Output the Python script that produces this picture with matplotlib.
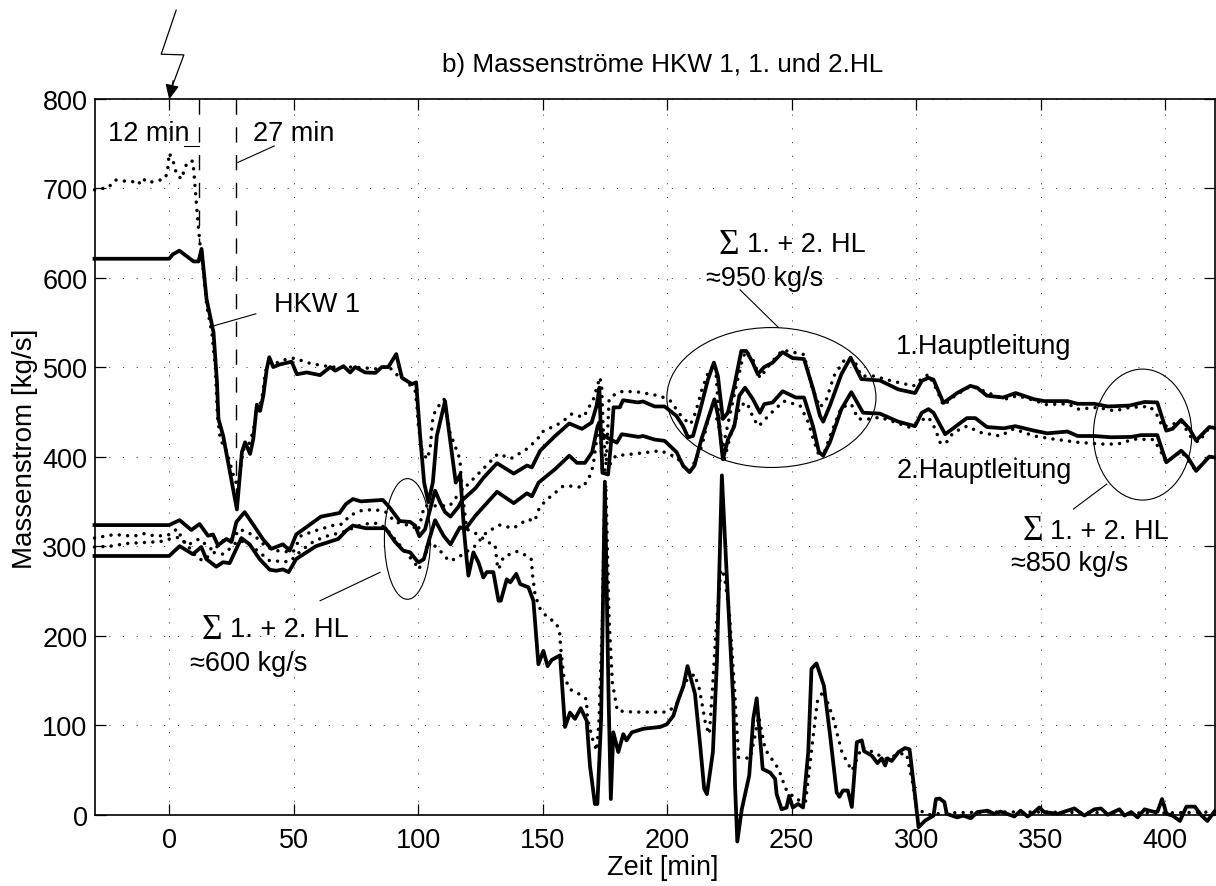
import matplotlib
matplotlib.use("Agg")
import matplotlib.pyplot as plt
from matplotlib.patches import Ellipse

plt.rcParams['font.family'] = ['Liberation Sans', 'DejaVu Sans']

# HKW 1
hkw_t = [-30, 0, 1.5, 4.1, 9.8, 11.8, 13, 15, 17.8, 19.2, 19.8, 21.7, 27.2, 29.2, 30.5, 32.5, 33.8, 35.2, 36.5, 37.8, 39.2, 40.2, 41.8, 44.5, 49.2, 51.3, 55.3, 60.6, 64.7, 66.7, 70, 72.7, 74.7, 78.7, 82.8, 85.4, 88, 91.2, 93.5, 97.5, 99.2, 100.8, 102.4, 104.1, 105.9, 107.5, 110.8, 115.1, 116.9, 118.5, 119.5, 120.2, 122.2, 124.2, 126.2, 127.6, 130.2, 132.3, 133.2, 135.6, 137, 139.4, 141, 144.3, 146.3, 148.3, 150.3, 152, 153.7, 157, 159, 161, 163, 165.3, 167.7, 169, 171, 172, 173.5, 175, 176.5, 177.4, 178.4, 180.4, 182.4, 183.7, 185.8, 190.5, 197.2, 199.9, 202.5, 204.6, 206.6, 208.2, 211.2, 213.3, 214.9, 216, 218.4, 220, 222, 223.7, 226.6, 227.3, 228.2, 230, 233, 234.6, 236, 238.4, 241.4, 243.4, 244, 246, 248, 249, 250.5, 252.6, 254.6, 256.7, 258, 260, 263, 265.5, 268.1, 269.2, 270.6, 272.6, 274.2, 276.2, 278.2, 279.1, 282.2, 284.5, 286.2, 287.6, 288.5, 290.2, 293, 295.6, 297.4, 299.6, 301, 303.6, 307, 308, 309.5, 311.4, 312.3, 316.5, 319, 322, 324.7, 328.7, 331.4, 334, 339.5, 342, 344.8, 347.5, 349.5, 351.5, 356.9, 363.6, 367.6, 371.6, 374.3, 377, 381.7, 383.7, 386.4, 389, 391.8, 395.8, 397, 398.8, 400.6, 403, 406, 408.6, 412, 414.7, 417, 420]
hkw_v = [621, 621, 626, 630, 618, 618, 632, 576, 539, 483, 442, 423, 341, 405, 416, 403, 420, 458, 451, 468, 498, 511, 500, 503, 506, 492, 494, 491, 500, 496, 501, 494, 500, 494, 493.5, 500, 500, 514.5, 488, 481, 483, 423, 371, 349, 371, 423, 462, 371, 380, 315, 285, 267, 293, 282, 265, 271, 271, 239, 239, 263, 259.5, 269, 257.6, 254, 239, 168, 183, 166, 173, 178, 98, 114, 107, 119, 105, 55, 12, 12, 107, 372, 130, 17.5, 92, 70, 90, 83, 92, 96, 98, 101, 110.5, 129, 144, 166, 135, 77, 29, 23, 70, 170, 379, 282, 126, 32, -30, 6, 44, 107, 130, 51, 47, 40, 23, 6, 8, 21, 8, 12, 8, 70, 163, 169, 144, 88, 25, 20, 27, 27, 8.6, 81, 83, 71, 66, 57.6, 63, 55, 63, 60, 70, 74.5, 73, 21, -14, -6.7, -1, 17.5, 18, 14, 1, -3, -1, -4, 3, 4.5, 1, 3.5, -2, 4.5, -2, 3, 8, 3, 1, 7, -1, 6, 7, 0, 6, -1, 3, -3, 6, 3, 3.5, 17.5, 1, -1, -7, 9, 9, -1, -7, 4]
hkw_sim_t = [-30, -24.4, -21.7, -19, -14.3, -12.3, -11, -8.3, -5, -1.9, -0.7, 0, 1.5, 3, 5, 6.4, 7.8, 9.5, 10, 11, 11.8, 12.4, 14, 15.1, 17.1, 18.5, 19.4, 20.5, 23.2, 25.8, 27.4, 28.8, 29.8, 31.8, 33.6, 35.2, 37.2, 38.6, 39.9, 43.9, 47.2, 50.6, 55.2, 60.6, 65.9, 74, 83.3, 88, 92, 94.7, 98.8, 99.5, 100.1, 101.5, 103.5, 104.8, 105.9, 107.2, 110.4, 112.8, 114.8, 116.8, 117.2, 117.9, 119.5, 123.6, 128.3, 131, 131.6, 132.3, 134.3, 139.7, 143, 145.4, 146, 147, 149, 151.7, 155.5, 156.8, 157.3, 158.5, 161, 164.5, 167.6, 168, 170, 171.7, 172.7, 174, 174.7, 175.4, 176.7, 178, 180, 186.8, 200, 203.6, 207, 211, 213, 215.6, 217, 218.3, 219.6, 221.6, 223, 225, 227, 228.7, 233.4, 235.3, 236.8, 239.4, 244.8, 247.6, 251.6, 255.6, 257.6, 260.3, 262.8, 266.8, 270.2, 274.2, 276.2, 278.2, 284.2, 287.6, 293.6, 296.2, 298.9, 300.2, 305, 312, 330, 350, 380, 400, 420]
hkw_sim_v = [698, 700.6, 709, 708, 707, 704, 711, 706, 708, 710, 717, 739, 731, 715, 710, 723.6, 730, 730, 715, 680, 654, 637, 602, 568, 539, 501, 445, 419.5, 405, 379, 367, 390, 408, 412, 427, 449, 464, 494, 505, 505, 509, 510, 505, 502, 500, 500, 498, 501, 490, 486, 473.5, 457, 434, 408, 397, 408, 444, 453, 464, 427, 412, 397, 379, 356, 319, 313.5, 304, 301, 282, 274, 288, 294, 290, 286, 267, 245, 230, 221, 214, 204, 185, 155, 140, 135, 129, 107, 85, 71.5, 107, 218, 330, 369, 218, 148, 116, 114.6, 114.6, 122, 148, 157, 140, 99, 90, 144, 204, 274, 267, 226, 144, 64, 63, 88, 110, 73, 51, 29, 17.5, 14, 62, 126, 138.5, 107, 70, 49, 62, 75.5, 68, 62, 68, 68, 32, 6.5, 0, 2, 3, 3, 2, 2, 3]

# 1. Hauptleitung
hl1_t = [-30, 0, 4.2, 8.9, 12.2, 15.6, 17.6, 19.6, 23, 25, 27, 30.3, 33.6, 37.6, 41, 45.7, 48.4, 51, 55, 61, 68.4, 71, 73.8, 77, 85.8, 88.6, 92.6, 96.8, 98.8, 100.5, 102.8, 104.8, 106.8, 108.8, 110.8, 113, 116.1, 117.5, 123, 126.4, 131.7, 138.4, 143.7, 145.7, 149, 155, 160.7, 165.8, 169.7, 171.7, 172.8, 173.4, 174, 176.3, 177.6, 178.5, 181, 182.3, 188.3, 190.3, 195, 199, 203.7, 206.4, 208.4, 210.4, 213, 216.4, 218.8, 220.4, 222.4, 224.4, 227, 229.8, 231.8, 234.4, 236.4, 239, 242.4, 246.4, 250.4, 255, 258.7, 261.4, 262.7, 265.4, 270, 273.7, 278, 285.5, 292.9, 299.6, 302.3, 305, 307, 311, 316.5, 321.8, 324.5, 328.5, 335, 340, 347.5, 351.5, 360.8, 364.9, 371.6, 377, 385.7, 391.8, 396.9, 400.5, 403, 406.5, 409.8, 412.5, 417.8, 420]
hl1_v = [323.5, 323.5, 329, 318, 324.7, 311.6, 313, 301, 308, 304.6, 327, 338, 324.7, 308, 297, 302, 295, 313, 321, 333, 337, 347, 352.6, 350, 351.6, 343, 328, 327, 323, 311, 319, 341, 362, 349, 338, 333, 343.6, 350.7, 364.6, 376.8, 392.6, 381, 390, 388, 406.6, 423, 437, 431, 438, 457, 477, 427, 382, 380, 419, 455, 455, 463, 460.5, 461.6, 456, 456, 445.6, 434, 421.6, 423, 449, 486, 505, 490, 442, 449, 479, 518, 518, 505, 492, 500, 505, 516.6, 510, 509, 475, 445.6, 439, 457, 492, 510.6, 486.6, 485, 475, 471, 484.6, 488, 486, 460, 471, 479, 477, 468, 466, 471, 464, 462, 462, 459, 459, 456, 457, 461, 460.5, 429, 431, 441, 431, 418, 433, 432]
hl1_sim_t = [-30, -21.9, -14.3, -10.3, -5, 0.3, 3, 7, 12, 17.6, 21.6, 25.6, 28.3, 34.3, 39, 43, 49.7, 53, 58.4, 65.7, 69.7, 72.4, 77, 82.4, 87, 90.8, 98, 100, 102.5, 112.7, 115.4, 120, 126, 132, 137.4, 143.4, 148, 149.4, 157.5, 161.7, 166.4, 170.4, 173, 173.7, 174.4, 175.5, 176.7, 178, 180.7, 182.7, 188.7, 197.4, 201.4, 206, 209.4, 211.4, 214, 216.8, 219.4, 220.8, 222, 227.6, 230.4, 231.8, 234.4, 237.3, 241.8, 246.4, 255, 258, 261.4, 264, 267, 271.5, 275, 278, 283, 290, 299, 300.4, 305, 308.6, 311, 315.6, 322, 335.5, 340.7, 348.6, 351.6, 361, 365, 373, 379.6, 386, 394, 397, 399, 406.7, 410, 413.4, 418, 420]
hl1_sim_v = [309, 313, 311, 314, 311, 313, 319, 300.6, 308, 295, 306, 308, 319, 311.6, 299, 295, 293, 311.6, 317, 323, 324.7, 334, 339.5, 341, 338, 327, 322, 317, 345, 345, 355, 369, 386, 403, 398, 408, 419.5, 427, 438, 447.6, 444, 464, 488.6, 479, 427, 390, 464, 467.7, 472, 473, 472, 467.6, 462, 444, 436, 449, 475, 496, 503, 445.6, 405, 477, 510.6, 518, 509, 488, 505, 519, 514, 479, 455, 464, 490, 509, 509, 490, 490, 484.6, 479, 483, 492, 473, 457, 468, 479, 464, 468, 462, 458, 459, 453, 455, 451, 455, 456, 445.6, 433, 439, 423, 416, 433, 432]

# 2. Hauptleitung
hl2_t = [-30, 0, 4.2, 9.5, 12.9, 14.9, 18.9, 21.6, 24.3, 26.3, 29, 32.3, 36.3, 40.4, 43, 45.7, 48, 51, 59, 67.9, 71, 73.8, 79, 86.8, 90.8, 94, 96.8, 99.5, 100.3, 102.3, 104.5, 106.8, 110.2, 113, 116.8, 119, 123, 126.9, 131.7, 138.4, 143.7, 145.7, 148.4, 155, 160.7, 163.8, 167, 169.9, 172, 172.7, 173.8, 177, 179.8, 181.8, 188.5, 190.4, 195, 199, 203.8, 206.4, 209, 211, 213.8, 219, 220.5, 222.4, 224.5, 227, 229, 231.3, 234.5, 237.3, 239, 242.4, 246.4, 251.7, 255, 258.6, 261, 262.7, 265.4, 270, 274, 278.7, 285.5, 292.9, 299.6, 302.3, 305, 307, 311.7, 320.4, 323.8, 328.5, 335.2, 339.9, 347.4, 352.7, 360.8, 364.9, 371.6, 378.3, 386.4, 390.4, 396.9, 400.5, 406.5, 409.2, 412.5, 417.8, 420]
hl2_v = [289, 289, 300, 291, 299, 285.6, 277, 282, 281, 293, 309, 302, 285.6, 273.6, 272.5, 274, 271, 285.6, 300, 308, 317, 323, 320, 320, 304.6, 295, 293, 283.6, 282, 285.6, 308, 329, 311.6, 302, 321, 319, 334, 346, 360.7, 348, 359, 355.6, 371, 386, 401, 393, 393, 405, 433, 438, 425, 419.5, 415.6, 425, 422, 423, 419, 417.6, 405, 390, 382.6, 390, 419.5, 464, 445.6, 397, 419.5, 434, 468, 477, 464, 449, 458.6, 460.5, 473, 466, 466, 434, 405, 401, 416, 453, 472, 449, 448, 439, 434, 449, 453, 449, 425, 443, 443, 433, 431.6, 434, 429, 426, 428, 423, 423, 421.6, 422, 424, 424, 393.6, 406.6, 399, 384, 400, 399]
hl2_sim_t = [-30, -23.5, -16.8, -3.7, 0.3, 4.2, 7.6, 10.9, 13.6, 17.6, 21.6, 24.3, 27.6, 31, 36.3, 40.4, 48.4, 53, 58.4, 63.8, 69.7, 78, 84, 87.3, 99.5, 100.3, 105, 110.2, 112.2, 115, 118, 122.8, 127.5, 132.8, 138.2, 144, 146.8, 148.8, 152, 158.2, 161.5, 166.2, 169, 170.3, 171.7, 173, 174, 176.7, 179.4, 186.7, 197.4, 204, 206.8, 209.4, 214, 216.8, 220, 221.4, 223, 225.4, 229.4, 232, 234.8, 236.8, 241.4, 246.8, 253.4, 256.8, 258.7, 260.8, 263.4, 266, 270, 274, 276.7, 281.4, 285.4, 292, 297.4, 301.5, 305, 307.7, 309.6, 311.7, 315, 320.4, 325.8, 333.8, 339.2, 347.4, 355.4, 364.9, 374.2, 381, 387.6, 395.6, 398.4, 400.5, 406.5, 412.5, 417.8, 420]
hl2_sim_v = [299, 300, 303, 305, 308, 310, 300, 288, 283.6, 293, 291, 297, 306, 304.6, 293, 283.6, 282.5, 295, 306, 311.6, 315.6, 324.7, 325.7, 319, 278, 274, 304.6, 291, 283.6, 285.6, 291, 300, 315.6, 323.5, 320, 330, 328, 343.6, 352.6, 367, 367, 365.6, 378.6, 390, 419.5, 438, 382, 390, 401, 403, 406.6, 399, 388, 384, 412, 445.6, 442, 427, 397, 423, 457, 460.5, 442, 434, 447.6, 462, 457, 438, 419.5, 403, 406.6, 427, 455, 458.6, 442, 442, 444, 438, 432.7, 440, 444, 431, 416, 414, 427, 434, 427, 423, 431, 423, 419.5, 416, 414, 414, 419.5, 419, 405, 393.6, 406, 384, 400, 399]

x_ticks = [0, 50, 100, 150, 200, 250, 300, 350, 400]
y_ticks = [0, 100, 200, 300, 400, 500, 600, 700, 800]

fs = 19.5

fig = plt.figure(figsize=(12.16, 8.87), dpi=100)
ax = fig.add_axes([94.5 / 1216, (887 - 815.7) / 887, (1214.8 - 94.5) / 1216, (815.7 - 99.5) / 887])

# gemessen (durchgezogen) und berechnet (punktiert)
for t, v in [(hkw_sim_t, hkw_sim_v), (hl1_sim_t, hl1_sim_v), (hl2_sim_t, hl2_sim_v)]:
    ax.plot(t, v, color='black', lw=2.5, linestyle=(0, (0.01, 2.4)), dash_capstyle='round', clip_on=False)
for t, v in [(hkw_t, hkw_v), (hl1_t, hl1_v), (hl2_t, hl2_v)]:
    ax.plot(t, v, color='black', lw=2.7, solid_joinstyle='round', clip_on=False)

ax.set_xlim(-30, 420)
ax.set_ylim(0, 800)
ax.set_xticks(x_ticks)
ax.set_yticks(y_ticks)
ax.tick_params(direction='in', length=8, width=0.9, labelsize=fs, top=True, right=True, pad=5)
ax.tick_params(axis='x', pad=9)
ax.grid(True, color='#333333', lw=0.65, linestyle=(0, (1.2, 14)))
ax.set_axisbelow(True)
for s in ax.spines.values():
    s.set_linewidth(1.2)

# Blitz und Ereignislinien
ax.plot([2.8, -3.2, 5.9, 1.0], [898.6, 849.5, 848.7, 812], color='black', lw=0.9, clip_on=False)
ax.annotate('', xy=(0, 799), xytext=(1.6, 820), annotation_clip=False,
            arrowprops=dict(arrowstyle='-|>,head_length=0.9,head_width=0.42', color='black', lw=0.9, shrinkA=0, shrinkB=0))
ax.plot([12, 12], [800, 640], color='black', lw=1, linestyle=(0, (11, 9)))
ax.plot([27, 27], [800, 345], color='black', lw=1, linestyle=(0, (11, 9)))

# Hinweislinien
leaders = [([5.9, 12], [747, 747]), ([42.2, 27.6], [747, 728.6]), ([34.8, 17.8], [559.5, 546]),
           ([84.7, 60.6], [270.7, 239]), ([229.3, 244.7], [586.3, 544.3]), ([376.6, 363.2], [369.3, 341.4])]
for lx, ly in leaders:
    ax.plot(lx, ly, color='black', lw=0.8)

for cx, cy, w, h in [(95.7, 308, 18.5, 134.8), (241.9, 466, 84, 156.3), (391, 424.6, 39.5, 146.3)]:
    ax.add_patch(Ellipse((cx, cy), w, h, fill=False, edgecolor='black', lw=0.8))

# Beschriftung
labels = [(-24.5, 762, '12 min'), (33.5, 762, '27 min'), (42.2, 571, 'HKW 1'),
          (24.5, 207, '1. + 2. HL'), (8.4, 169.4, '≈600 kg/s'),
          (232, 637, '1. + 2. HL'), (215.7, 600, '≈950 kg/s'),
          (292, 523.7, '1.Hauptleitung'), (292, 385, '2.Hauptleitung'),
          (354, 317, '1. + 2. HL'), (338.2, 281, '≈850 kg/s')]
for lx, ly, s in labels:
    ax.text(lx, ly, s, fontsize=fs, ha='left', va='center')
for lx, ly in [(13.1, 207), (220.6, 637), (342.8, 317)]:
    ax.text(lx, ly, 'Σ', fontsize=fs + 6, ha='left', va='center', family='Liberation Serif')

fig.text(663 / 1216, 1 - 65 / 887, 'b) Massenströme HKW 1, 1. und 2.HL', fontsize=18.8, ha='center', va='center')
fig.text(663 / 1216, 1 - 868 / 887, 'Zeit [min]', fontsize=fs, ha='center', va='center')
fig.text(25 / 1216, 1 - 449 / 887, 'Massenstrom [kg/s]', fontsize=20, ha='center', va='center', rotation=90)

fig.savefig('out.png', dpi=100)
